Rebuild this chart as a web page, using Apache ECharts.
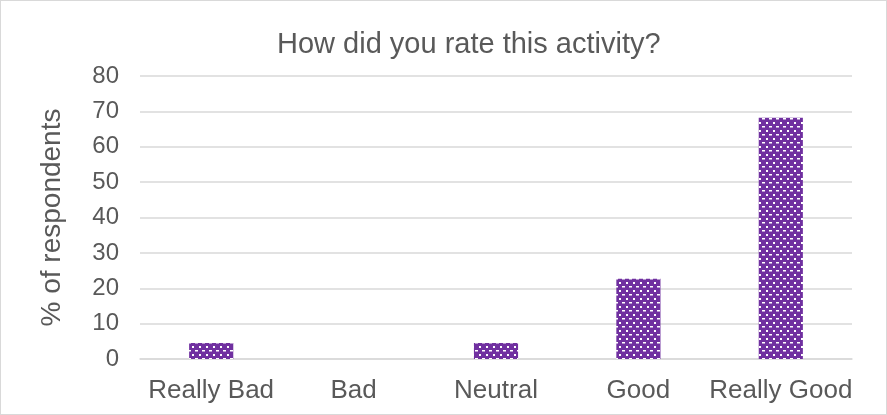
<!DOCTYPE html>
<html><head><meta charset="utf-8">
<script src="https://cdn.jsdelivr.net/npm/echarts@6/dist/echarts.min.js"></script>
<style>html,body{margin:0;padding:0;background:#fff}#c{width:885px;height:413px;border:1px solid #d9d9d9}</style>
</head><body><div id="c"></div>
<script>
const categories = ['Really Bad', 'Bad', 'Neutral', 'Good', 'Really Good'];
const values = [4.5, 0, 4.5, 22.7, 68.2];
const titleText = 'How did you rate this activity?';
const yName = '% of respondents';

const pc = document.createElement('canvas');
pc.width = 7; pc.height = 8;
const g = pc.getContext('2d');
g.fillStyle = '#7030A0'; g.fillRect(0, 0, 7, 8);
g.fillStyle = '#ffffff';
g.fillRect(2, 1, 2, 2);
g.fillRect(5, 5, 2, 1.5);
g.fillRect(0, 5, 1, 1.5);

const font = 'Liberation Sans, Arial';
const chart = echarts.init(document.getElementById('c'));
chart.setOption({
  animation: false,
  title: { text: titleText, left: 271, top: 24, textStyle: { fontFamily: font, fontSize: 29, fontWeight: 'normal', color: '#595959' } },
  grid: { left: 139, right: 34, top: 75, bottom: 55 },
  xAxis: {
    type: 'category', data: categories,
    axisLine: { show: true, lineStyle: { color: '#d9d9d9', width: 1.5 } },
    axisTick: { show: false },
    axisLabel: { fontFamily: font, fontSize: 26, color: '#595959', margin: 19, interval: 0 }
  },
  yAxis: {
    type: 'value', min: 0, max: 80, interval: 10,
    name: yName, nameLocation: 'middle', nameGap: 74, nameRotate: 90,
    nameTextStyle: { fontFamily: font, fontSize: 28, color: '#595959' },
    axisLine: { show: false }, axisTick: { show: false },
    axisLabel: { fontFamily: font, fontSize: 24, color: '#595959', margin: 21 },
    splitLine: { lineStyle: { color: '#d9d9d9', width: 1.5 } }
  },
  series: [{
    type: 'bar', data: values, barWidth: '31%',
    itemStyle: { color: { image: pc, repeat: 'repeat' } }
  }]
});
</script></body></html>
